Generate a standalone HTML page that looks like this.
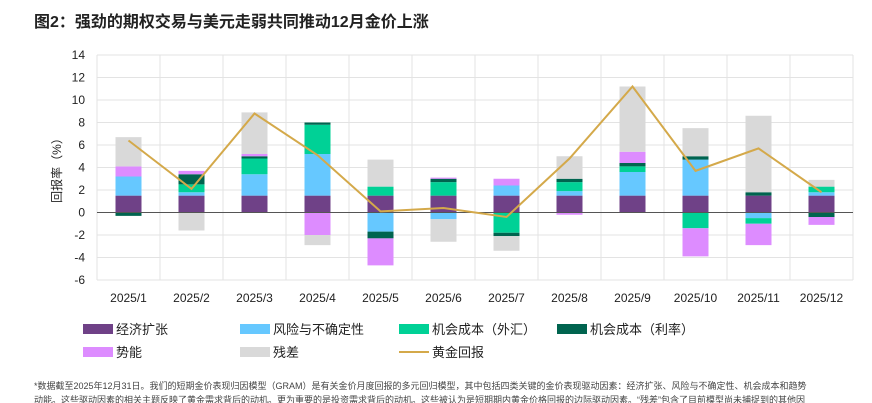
<!DOCTYPE html>
<html><head><meta charset="utf-8">
<style>
body{margin:0;background:#fff;font-family:"Liberation Sans","Noto Sans CJK SC",sans-serif;}
#wrap{position:relative;width:872px;height:403px;overflow:hidden;}
.title{position:absolute;left:34px;top:8px;font-size:16px;font-weight:bold;color:#222;}
.leg{position:absolute;font-size:13px;color:#222;display:flex;align-items:center;}
.sw{width:30px;height:10px;margin-right:3px;}
.ln{width:30px;height:2px;margin-right:3px;background:#d4a94a;}
.foot{position:absolute;left:34px;top:379px;font-size:9px;color:#444;line-height:14px;white-space:nowrap;}
</style></head><body>
<div id="wrap">
<div class="title">图2：强劲的期权交易与美元走弱共同推动12月金价上涨</div>
<svg id="chart" width="872" height="403" style="position:absolute;left:0;top:0"></svg>
<div class="leg" style="left:83px;top:319px"><div class="sw" style="background:#6f4187"></div>经济扩张</div>
<div class="leg" style="left:240px;top:319px"><div class="sw" style="background:#66c8ff"></div>风险与不确定性</div>
<div class="leg" style="left:399px;top:319px"><div class="sw" style="background:#00d196"></div>机会成本（外汇）</div>
<div class="leg" style="left:557px;top:319px"><div class="sw" style="background:#00644f"></div>机会成本（利率）</div>
<div class="leg" style="left:83px;top:342px"><div class="sw" style="background:#dd8cff"></div>势能</div>
<div class="leg" style="left:240px;top:342px"><div class="sw" style="background:#d9d9d9"></div>残差</div>
<div class="leg" style="left:399px;top:342px"><div class="ln"></div>黄金回报</div>
<div class="foot">*数据截至2025年12月31日。我们的短期金价表现归因模型（GRAM）是有关金价月度回报的多元回归模型，其中包括四类关键的金价表现驱动因素：经济扩张、风险与不确定性、机会成本和趋势<br>动能。这些驱动因素的相关主题反映了黄金需求背后的动机。更为重要的是投资需求背后的动机。这些被认为是短期期内黄金价格回报的边际驱动因素。“残差”包含了目前模型尚未捕捉到的其他因</div>
</div>
<script>
const categories=["2025/1","2025/2","2025/3","2025/4","2025/5","2025/6","2025/7","2025/8","2025/9","2025/10","2025/11","2025/12"];
const econ=[1.5,1.5,1.5,1.5,1.5,1.5,1.5,1.5,1.5,1.5,1.5,1.5];
const risk=[1.7,0.3,1.9,3.7,-1.7,-0.6,0.9,0.4,2.1,3.2,-0.5,0.3];
const fx=[0,0.7,1.4,2.6,0.8,1.2,-1.8,0.8,0.5,-1.4,-0.5,0.5];
const rate=[-0.3,0.9,0.2,0.2,-0.6,0.3,-0.3,0.3,0.3,0.3,0.3,-0.4];
const momentum=[0.9,0.3,0.2,-2.0,-2.4,0.1,0.6,-0.2,1.0,-2.5,-1.9,-0.7];
const residual=[2.6,-1.6,3.7,-0.9,2.4,-2.0,-1.3,2.0,5.8,2.5,6.8,0.6];
const gold=[6.4,2.1,8.8,5.1,0.1,0.4,-0.4,4.8,11.2,3.7,5.7,1.8];
const yTicks=[14,12,10,8,6,4,2,0,-2,-4,-6];

const NS="http://www.w3.org/2000/svg";
const svg=document.getElementById('chart');
const L=97,R=853,T=55,B=280,yMin=-6,yMax=14;
const bw=(R-L)/categories.length;
const y=v=>T+(yMax-v)/(yMax-yMin)*(B-T);
const xc=i=>L+bw*(i+0.5);
function mk(tag,attrs){const e=document.createElementNS(NS,tag);for(const k in attrs)e.setAttribute(k,attrs[k]);svg.appendChild(e);return e;}
yTicks.forEach(t=>{
  const g=mk('line',{x1:L,x2:R,y1:y(t),y2:y(t),stroke:'#e3e3e3','stroke-width':1});
  
  
  const tx=mk('text',{x:L-12,y:y(t)+4,'text-anchor':'end','font-size':12,fill:'#222'});
  tx.textContent=t;
  
  
});
for(let i=0;i<=categories.length;i++){
  const g=mk('line',{x1:L+bw*i,x2:L+bw*i,y1:T,y2:B,stroke:'#e3e3e3','stroke-width':1});
  
  
}
const yt=mk('text',{x:0,y:0,transform:'translate(61,'+((T+B)/2)+') rotate(-90)','text-anchor':'middle','font-size':12,fill:'#222'});
yt.textContent='回报率（%）';


const series=[[econ,'#6f4187','econ'],[risk,'#66c8ff','risk'],[fx,'#00d196','fx'],[rate,'#00644f','rate'],[momentum,'#dd8cff','momentum'],[residual,'#d9d9d9','residual']];
const barW=26;
categories.forEach((c,i)=>{
  let pos=0,neg=0;
  series.forEach(([arr,col,name])=>{
    const v=arr[i]; if(!v)return;
    let a,b;
    if(v>0){a=pos;b=pos+v;pos=b;}else{a=neg;b=neg+v;neg=b;}
    const r=mk('rect',{x:xc(i)-barW/2,y:Math.min(y(a),y(b)),width:barW,height:Math.abs(y(a)-y(b)),fill:col});
    
    
  });
  const tx=mk('text',{x:xc(i),y:B+22,'text-anchor':'middle','font-size':12,fill:'#222'});
  tx.textContent=c;
  
  
});
const z=mk('line',{x1:L,x2:R,y1:y(0),y2:y(0),stroke:'#555','stroke-width':1});


const pl=mk('polyline',{points:gold.map((v,i)=>xc(i)+','+y(v)).join(' '),fill:'none',stroke:'#d4a94a','stroke-width':2});


</script>
</body></html>
